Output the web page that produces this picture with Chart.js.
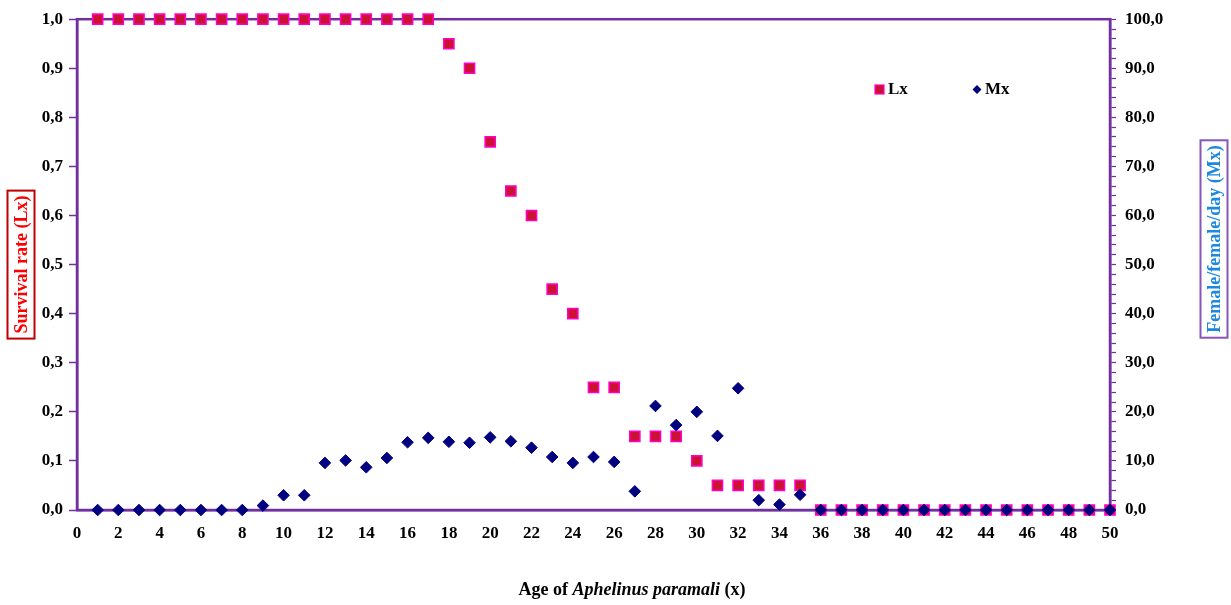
<!DOCTYPE html>
<html lang="en">
<head>
    <meta charset="UTF-8">
    <title>Lx and Mx of Aphelinus paramali</title>
    <style>
        body { margin: 0; background: #fff; }
        #chart-container { width: 1231px; height: 605px; }
    </style>
</head>
<body>
    <div id="chart-container">
        <canvas id="chart"></canvas>
    </div>
    <script src="https://cdn.jsdelivr.net/npm/chart.js@4/dist/chart.umd.min.js"></script>
    <script>
        // age in days (x)
        const ages = [1,2,3,4,5,6,7,8,9,10,11,12,13,14,15,16,17,18,19,20,21,22,23,24,25,
                      26,27,28,29,30,31,32,33,34,35,36,37,38,39,40,41,42,43,44,45,46,47,48,49,50];
        // survival rate (left axis)
        const lx = [1,1,1,1,1,1,1,1,1,1,1,1,1,1,1,1,1,0.95,0.9,0.75,0.65,0.6,0.45,0.4,0.25,
                    0.25,0.15,0.15,0.15,0.1,0.05,0.05,0.05,0.05,0.05,0,0,0,0,0,0,0,0,0,0,0,0,0,0,0];
        // female/female/day (right axis)
        const mx = [0,0,0,0,0,0,0,0,0.9,3.0,3.0,9.6,10.1,8.7,10.6,13.8,14.7,13.9,13.7,14.8,14.0,12.7,10.8,9.6,10.8,
                    9.8,3.8,21.2,17.3,20.0,15.1,24.8,2.0,1.1,3.1,0,0,0,0,0,0,0,0,0,0,0,0,0,0,0];

        const purple = '#7030A0';
        const serif = '"Liberation Serif", "Times New Roman", serif';
        const tickFont = { family: serif, size: 17, weight: 'bold' };
        const comma = v => v.toFixed(1).replace('.', ',');

        const lxPoints = ages.map((a, i) => ({ x: a, y: lx[i] }));
        const mxPoints = ages.map((a, i) => ({ x: a, y: mx[i] }));

        // frame, axis titles and legend
        const decorations = {
            id: 'decorations',
            beforeDatasetsDraw(chart) {
                const { ctx, chartArea: a } = chart;
                ctx.save();
                ctx.strokeStyle = purple;
                ctx.lineWidth = 2.5;
                ctx.strokeRect(a.left, a.top, a.right - a.left, a.bottom - a.top);
                ctx.restore();
            },
            afterDraw(chart) {
                const { ctx, chartArea: a } = chart;
                ctx.save();
                ctx.textBaseline = 'middle';

                // axis titles in boxes
                drawBoxedTitle(ctx, 'Survival rate (Lx)', 21, (a.top + a.bottom) / 2, '#FF0000', '#C00000');
                drawBoxedTitle(ctx, 'Female/female/day (Mx)', 1214, 239, '#1E88DD', '#8855BB');

                // x title with italic genus name
                const parts = [
                    ['bold 18px ' + serif, 'Age of '],
                    ['bold italic 18px ' + serif, 'Aphelinus paramali'],
                    ['bold 18px ' + serif, ' (x)']
                ];
                let total = 0;
                parts.forEach(p => { ctx.font = p[0]; total += ctx.measureText(p[1]).width; });
                let x = 632 - total / 2;
                ctx.fillStyle = '#000';
                ctx.textAlign = 'left';
                parts.forEach(p => {
                    ctx.font = p[0];
                    ctx.fillText(p[1], x, 590);
                    x += ctx.measureText(p[1]).width;
                });

                // legend
                ctx.font = 'bold 17px ' + serif;
                ctx.fillStyle = '#CC1133';
                ctx.strokeStyle = '#FF00CC';
                ctx.lineWidth = 1.2;
                ctx.fillRect(875, 85, 9, 9);
                ctx.strokeRect(875, 85, 9, 9);
                ctx.fillStyle = '#000';
                ctx.fillText('Lx', 888, 90);
                ctx.fillStyle = '#000080';
                ctx.beginPath();
                ctx.moveTo(977, 85); ctx.lineTo(981.5, 89.5); ctx.lineTo(977, 94); ctx.lineTo(972.5, 89.5);
                ctx.closePath();
                ctx.fill();
                ctx.fillStyle = '#000';
                ctx.fillText('Mx', 985, 90);
                ctx.restore();
            }
        };

        function drawBoxedTitle(ctx, text, cx, cy, color, border) {
            ctx.save();
            ctx.translate(cx, cy);
            ctx.rotate(-Math.PI / 2);
            ctx.font = 'bold 18px ' + serif;
            const w = ctx.measureText(text).width;
            ctx.strokeStyle = border;
            ctx.lineWidth = 2;
            ctx.strokeRect(-w / 2 - 5, -13.5, w + 10, 27);
            ctx.fillStyle = color;
            ctx.textAlign = 'center';
            ctx.textBaseline = 'middle';
            ctx.fillText(text, 0, 1);
            ctx.restore();
        }

        new Chart(document.getElementById('chart'), {
            type: 'scatter',
            data: {
                datasets: [{
                    label: 'Lx',
                    data: lxPoints,
                    yAxisID: 'y',
                    order: 1,
                    pointStyle: 'rect',
                    pointRadius: 7.2,
                    backgroundColor: '#CC1133',
                    borderColor: '#FF00CC',
                    borderWidth: 1.5,
                    clip: false
                }, {
                    label: 'Mx',
                    data: mxPoints,
                    yAxisID: 'y1',
                    order: 0,
                    pointStyle: 'rectRot',
                    pointRadius: 5.8,
                    backgroundColor: '#000080',
                    borderColor: '#000080',
                    borderWidth: 1,
                    clip: false
                }]
            },
            options: {
                responsive: true,
                maintainAspectRatio: false,
                animation: false,
                layout: { padding: { top: 15, left: 0, right: 0, bottom: 0 } },
                plugins: { legend: { display: false }, tooltip: { enabled: false } },
                scales: {
                    x: {
                        type: 'linear',
                        min: 0, max: 50,
                        afterFit: s => { s.height = 95; },
                        ticks: { stepSize: 2, color: '#000', font: tickFont, padding: 13, maxRotation: 0, autoSkip: false },
                        grid: { display: true, drawOnChartArea: false, drawTicks: false },
                        border: { color: purple, width: 2.5 }
                    },
                    y: {
                        position: 'left',
                        min: 0, max: 1,
                        afterFit: s => { s.width = 77; },
                        ticks: { stepSize: 0.1, color: '#000', font: tickFont, padding: 6, callback: v => comma(v) },
                        grid: { drawOnChartArea: false, tickLength: 8, color: purple, tickWidth: 1.5 },
                        border: { color: purple, width: 2.5 }
                    },
                    y1: {
                        position: 'right',
                        min: 0, max: 100,
                        afterFit: s => { s.width = 121; },
                        ticks: {
                            stepSize: 2, color: '#000', font: tickFont, padding: 9, autoSkip: false,
                            callback: v => (v % 10 === 0 ? comma(v) : '')
                        },
                        grid: { drawOnChartArea: false, tickLength: 6, color: purple, tickWidth: 1.2 },
                        border: { color: purple, width: 2.5 }
                    }
                }
            },
            plugins: [decorations]
        });
    </script>
</body>
</html>
